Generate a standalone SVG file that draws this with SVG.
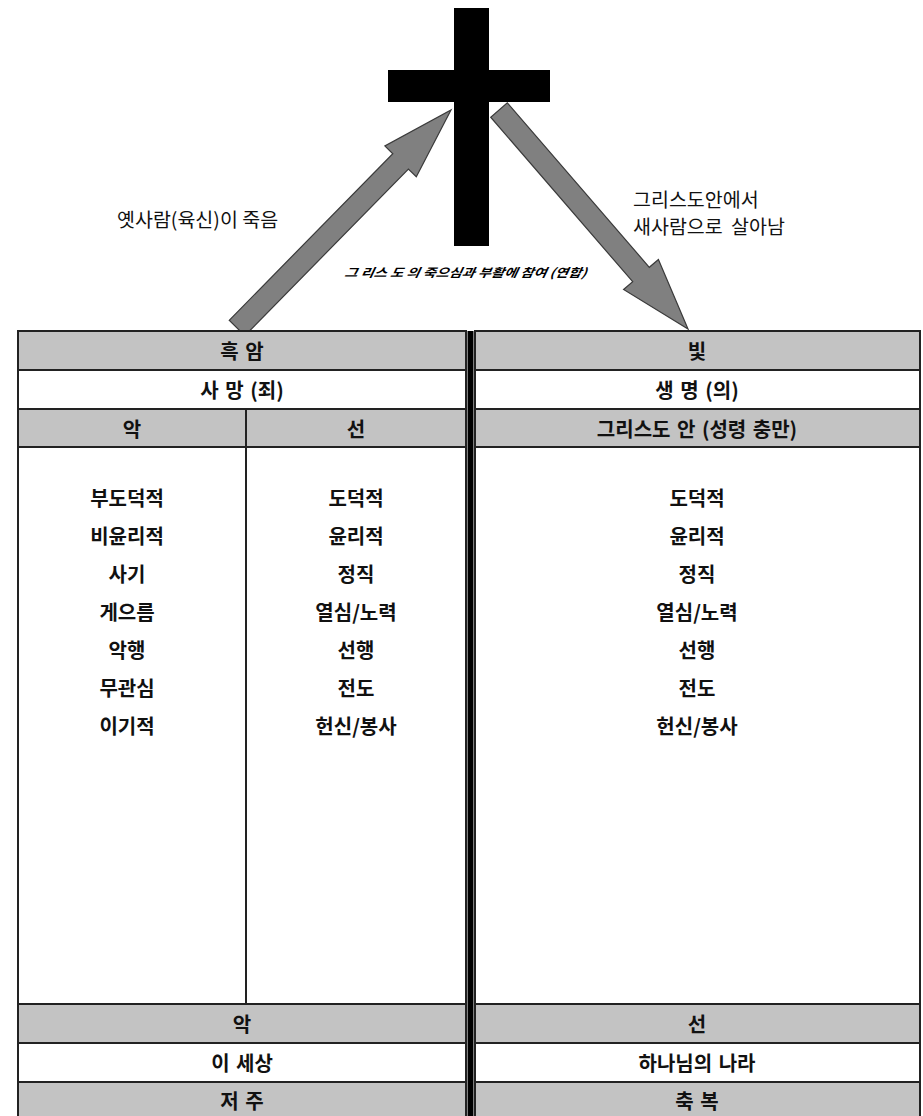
<svg xmlns="http://www.w3.org/2000/svg" width="923" height="1116" viewBox="0 0 923 1116">
<style>
.t{font-family:"Noto Sans CJK KR","Noto Sans",sans-serif;font-size:20px;font-weight:bold;word-spacing:2px;fill:#111;text-anchor:middle;dominant-baseline:central}
.lbl{font-family:"Noto Sans CJK KR","Noto Sans",sans-serif;font-size:19.5px;fill:#111}
.g{fill:#c3c3c3;stroke:#222;stroke-width:2}
.w{fill:#fff;stroke:#222;stroke-width:2}
.arrow{fill:#808080;stroke:#3a3a3a;stroke-width:1.2}
.ln{stroke:#222;stroke-width:2}
</style>
<rect width="923" height="1116" fill="#fff"/>
<g id="connectors">
<polygon class="arrow" points="229.2,320.3 392.8,153.7 384.9,146 451,110 416.3,176.8 408.4,169.1 244.8,335.7"/>
<polygon class="arrow" points="507.3,102.8 649.3,267.3 658.4,259.5 688,329 623.6,289.5 632.7,281.7 490.7,117.2"/>
</g>
<g id="cross">
<rect x="454" y="8" width="35" height="238" fill="#000"/>
<rect x="388" y="70" width="162" height="32" fill="#000"/>
<text x="466" y="272" font-family="'Noto Sans CJK KR',sans-serif" font-size="12" font-weight="bold" font-style="italic" text-anchor="middle" dominant-baseline="central" textLength="242" lengthAdjust="spacingAndGlyphs" transform="skewX(-10) translate(48,0)">그 리스 도 의 죽으심과 부활에 참여 (연합)</text>
</g>
<g id="label-left"><text class="lbl" x="117" y="227" font-size="21">옛사람(육신)이 죽음</text></g>
<g id="label-right"><text class="lbl" x="633" y="207">그리스도안에서</text><text class="lbl" x="633" y="234" word-spacing="4">새사람으로 살아남</text></g>
<g id="table-left">
<rect class="g" x="18" y="331" width="448" height="39"/>
<rect class="w" x="18" y="370" width="448" height="39"/>
<rect class="g" x="18" y="409" width="448" height="38"/>
<rect class="w" x="18" y="447" width="448" height="557"/>
<line class="ln" x1="246" y1="409" x2="246" y2="1004"/>
<rect class="g" x="18" y="1004" width="448" height="39"/>
<rect class="w" x="18" y="1043" width="448" height="39"/>
<rect class="g" x="18" y="1082" width="448" height="40"/>
<text class="t" x="242" y="350">흑 암</text>
<text class="t" x="242" y="389">사 망 (죄)</text>
<text class="t" x="132" y="428">악</text>
<text class="t" x="356" y="428">선</text>
<text class="t" x="127" y="497">부도덕적</text>
<text class="t" x="127" y="535">비윤리적</text>
<text class="t" x="127" y="573">사기</text>
<text class="t" x="127" y="611">게으름</text>
<text class="t" x="127" y="649">악행</text>
<text class="t" x="127" y="687">무관심</text>
<text class="t" x="127" y="725">이기적</text>
<text class="t" x="356" y="497">도덕적</text>
<text class="t" x="356" y="535">윤리적</text>
<text class="t" x="356" y="573">정직</text>
<text class="t" x="356" y="611">열심/노력</text>
<text class="t" x="356" y="649">선행</text>
<text class="t" x="356" y="687">전도</text>
<text class="t" x="356" y="725">헌신/봉사</text>
<text class="t" x="242" y="1023">악</text>
<text class="t" x="242" y="1062">이 세상</text>
<text class="t" x="242" y="1100">저 주</text>
</g>
<g id="divider"><rect x="467.5" y="331" width="6" height="790" fill="#000"/></g>
<g id="table-right">
<rect class="g" x="475" y="331" width="445" height="39"/>
<rect class="w" x="475" y="370" width="445" height="39"/>
<rect class="g" x="475" y="409" width="445" height="38"/>
<rect class="w" x="475" y="447" width="445" height="557"/>
<rect class="g" x="475" y="1004" width="445" height="39"/>
<rect class="w" x="475" y="1043" width="445" height="39"/>
<rect class="g" x="475" y="1082" width="445" height="40"/>
<text class="t" x="697" y="350">빛</text>
<text class="t" x="697" y="389">생 명 (의)</text>
<text class="t" x="697" y="428">그리스도 안 (성령 충만)</text>
<text class="t" x="697" y="497">도덕적</text>
<text class="t" x="697" y="535">윤리적</text>
<text class="t" x="697" y="573">정직</text>
<text class="t" x="697" y="611">열심/노력</text>
<text class="t" x="697" y="649">선행</text>
<text class="t" x="697" y="687">전도</text>
<text class="t" x="697" y="725">헌신/봉사</text>
<text class="t" x="697" y="1023">선</text>
<text class="t" x="697" y="1062">하나님의 나라</text>
<text class="t" x="697" y="1100">축 복</text>
</g>
</svg>
